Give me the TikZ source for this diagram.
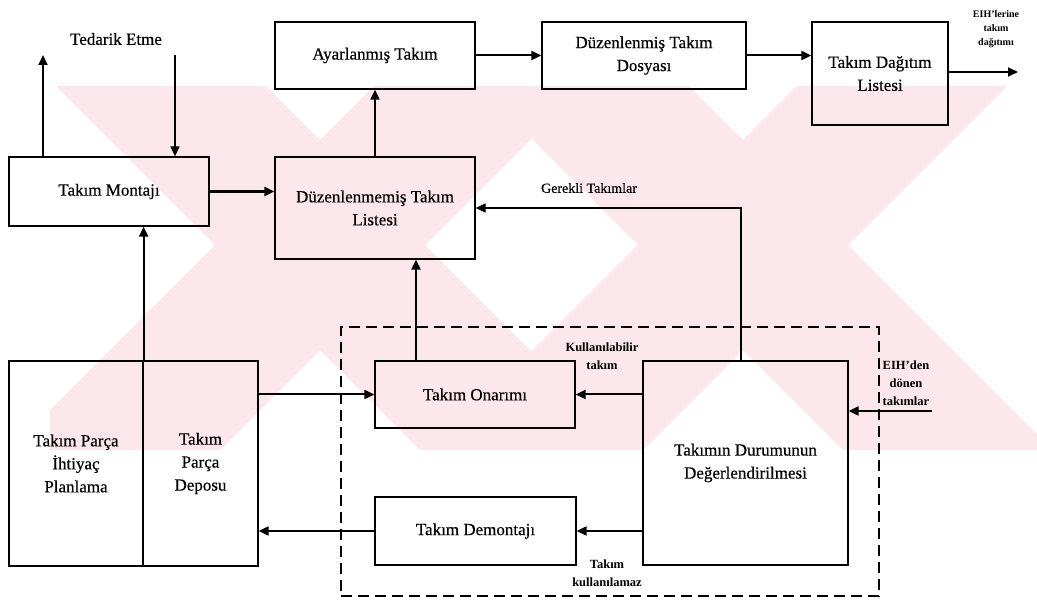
\documentclass[tikz,border=0pt]{standalone}
\usepackage{fontspec}
\setmainfont{Liberation Serif}
\newfontfamily\scanfont{Liberation Serif}[FakeBold=0.4]
\usetikzlibrary{arrows.meta}
\newcommand\fsMain{\scanfont\fontsize{17}{23}\selectfont}
\newcommand\fsMid{\scanfont\fontsize{14}{18}\selectfont}
\newcommand\fsSmall{\fontsize{12.5}{18}\selectfont\bfseries}
\newcommand\fsTiny{\fontsize{10}{14}\selectfont\bfseries}
\definecolor{wmpink}{HTML}{FCE8EC}
\begin{document}
\begin{tikzpicture}[x=1pt,y=-1pt,
  box/.style={draw, line width=1.3pt, align=center, inner sep=0pt, font=\fsMain},
  arr/.style={line width=2pt, -{Triangle[length=10pt,width=9pt]}},
  thinarr/.style={line width=1.3pt, -{Triangle[length=10pt,width=9pt]}},
  lbl/.style={align=center, inner sep=0pt},
  grpbox/.style={draw, line width=2.2pt, dash pattern=on 11pt off 6pt, inner sep=0pt}]
\useasboundingbox (0,0) rectangle (1037,601);
\fill[white] (0,0) rectangle (1037,601);
% watermark
\begin{scope}
\clip (50,87) rectangle (1037,450);
\foreach \cx/\cy in {320/245, 743/245}{
  \fill[wmpink] (\cx-505,\cy-400) -- (\cx-295,\cy-400) -- (\cx+505,\cy+400) -- (\cx+295,\cy+400) -- cycle;
  \fill[wmpink] (\cx+295,\cy-400) -- (\cx+505,\cy-400) -- (\cx-295,\cy+400) -- (\cx-505,\cy+400) -- cycle;
}
\end{scope}
% nodes
\node[box, minimum width=200pt, minimum height=67pt] (ayar) at (375,55.5) {Ayarlanmış Takım};
\node[box, minimum width=204pt, minimum height=67pt] (dosya) at (644,55.5) {Düzenlenmiş Takım\\Dosyası};
\node[box, minimum width=136pt, minimum height=103pt] (dagitim) at (880,73.5) {Takım Dağıtım\\Listesi};
\node[box, minimum width=200pt, minimum height=69pt] (montaj) at (109,191.5) {Takım Montajı};
\node[box, minimum width=200pt, minimum height=102pt] (duz) at (375,208) {Düzenlenmemiş Takım\\Listesi};
\node[box, minimum width=134pt, minimum height=205pt] (plan) at (76,463.5) {Takım Parça\\İhtiyaç\\Planlama};
\node[box, minimum width=115pt, minimum height=205pt] (depo) at (200.5,463.5) {Takım\\Parça\\Deposu};
\node[box, minimum width=200pt, minimum height=67pt] (onarim) at (475,394.5) {Takım Onarımı};
\node[box, minimum width=201pt, minimum height=68pt] (demontaj) at (475.5,531) {Takım Demontajı};
\node[box, minimum width=205pt, minimum height=204pt] (durum) at (745.5,463) {Takımın Durumunun\\Değerlendirilmesi};
\node[grpbox, minimum width=538pt, minimum height=269pt] (grp) at (610,461.5) {};
% labels
\node[lbl, font=\fsMain] (tedarik) at (116,39) {Tedarik Etme};
\node[lbl, font=\fsMid] (gerekli) at (589,188) {Gerekli Takımlar};
\node[lbl, font=\fsSmall] (kullan) at (602,356) {Kullanılabilir\\takım};
\node[lbl, font=\fsSmall] (kullanma) at (607,573) {Takım\\kullanılamaz};
\node[lbl, font=\fsSmall] (donen) at (906,383) {EIH'den\\dönen\\takımlar};
\node[lbl, font=\fsTiny] (dagitimlbl) at (996,29) {EIH'lerine\\takım\\dağıtımı};
% free ends
\coordinate (tedOut) at (43,55);
\coordinate (tedIn) at (175,55);
\coordinate (outEnd) at (1018,72);
\coordinate (inStart) at (932,411);
\coordinate (onUp) at (416,0);
\coordinate (gerUp) at (741,0);
% connectors
\draw[arr] (tedOut |- montaj.north) -- (tedOut);
\draw[thinarr] (tedIn) -- (tedIn |- montaj.north);
\draw[line width=2.8pt, -{Triangle[length=10pt,width=9pt]}] (montaj.east) -- (montaj.east -| duz.west);
\draw[arr] (duz) -- (ayar);
\draw[arr] (ayar) -- (dosya);
\draw[arr] (dosya.east) -- (dosya.east -| dagitim.west);
\draw[arr] (outEnd -| dagitim.east) -- (outEnd);
\draw[arr] (plan.north east) -- (plan.north east |- montaj.south);
\draw[arr] (depo.east |- onarim) -- (onarim.west);
\draw[arr] (demontaj.west) -- (demontaj.west -| depo.east);
\draw[arr] (onUp |- onarim.north) -- (onUp |- duz.south);
\draw[arr] (durum.west |- onarim) -- (onarim.east);
\draw[arr] (durum.west |- demontaj) -- (demontaj.east);
\draw[thinarr] (gerUp |- durum.north) |- (duz.east);
\draw[arr] (inStart) -- (inStart -| durum.east);
\end{tikzpicture}
\end{document}
